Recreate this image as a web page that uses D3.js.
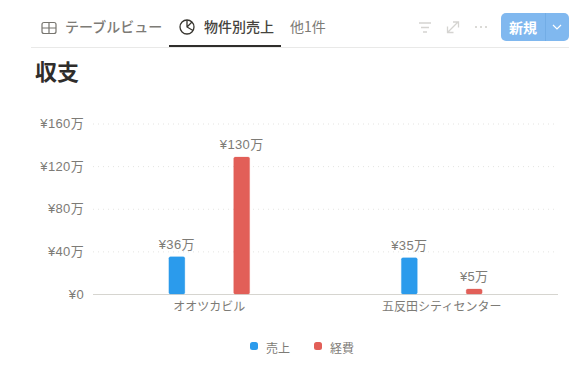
<!DOCTYPE html>
<html>
<head>
<meta charset="utf-8">
<script src="https://cdn.jsdelivr.net/npm/d3@7"></script>
<style>
	html, body { margin: 0; padding: 0; background: #fff; }
	svg { display: block; }
	text { font-family: "Liberation Sans", "Noto Sans CJK JP", sans-serif; }
	.cjk { font-family: "Noto Sans CJK JP", sans-serif; }
</style>
</head>
<body>
<div id="chart"></div>
<script>
const buildings = ['オオツカビル', '五反田シティセンター'];
const seriesNames = ['売上', '経費'];
const sales = [35, 34];
const costs = [128.5, 4.7];
const salesLabels = ['¥36万', '¥35万'];
const costLabels = ['¥130万', '¥5万'];
const yTicks = [0, 40, 80, 120, 160];
const yTickLabels = ['¥0', '¥40万', '¥80万', '¥120万', '¥160万'];
const seriesColors = ['#2b9bec', '#e25f58'];

const width = 587;
const height = 370;
const margin = { left: 93, right: 29, top: 123.5, bottom: 76 };

const svg = d3
	.select('#chart')
	.append('svg')
	.attr('width', width)
	.attr('height', height);

// Header: tabs and toolbar
const header = svg.append('g');

header.append('line')
	.attr('x1', 31).attr('x2', 569)
	.attr('y1', 47.5).attr('y2', 47.5)
	.attr('stroke', '#e9e9e8');

header.append('rect')
	.attr('x', 169).attr('y', 45)
	.attr('width', 112).attr('height', 2)
	.attr('fill', '#2f2d2b');

const tabs = [
	{ label: 'テーブルビュー', x: 65, color: '#7d7b76', weight: 500 },
	{ label: '物件別売上', x: 204, color: '#45433e', weight: 500 },
	{ label: '他1件', x: 290, color: '#7d7b76', weight: 400 },
];
header.selectAll('text.tab')
	.data(tabs)
	.enter()
	.append('text')
	.attr('class', 'tab cjk')
	.attr('x', (d) => d.x)
	.attr('y', 32)
	.attr('fill', (d) => d.color)
	.attr('font-weight', (d) => d.weight)
	.style('font-size', '14px')
	.text((d) => d.label);

// Table icon
const tableIcon = header.append('g')
	.attr('fill', 'none')
	.attr('stroke', '#77756f')
	.attr('stroke-width', 1.2);
tableIcon.append('rect')
	.attr('x', 42).attr('y', 22.5)
	.attr('width', 14).attr('height', 11)
	.attr('rx', 2);
tableIcon.append('path').attr('d', 'M42 28H56M49 22.5V33.5');

// Pie icon
const pieIcon = header.append('g')
	.attr('fill', 'none')
	.attr('stroke', '#37352f')
	.attr('stroke-width', 1.3);
pieIcon.append('circle').attr('cx', 187).attr('cy', 27).attr('r', 7);
pieIcon.append('path').attr('d', 'M187 20V27L193 30.5M187 27L192 22');

// Toolbar icons
const tools = header.append('g')
	.attr('fill', 'none')
	.attr('stroke', '#d5d4d1')
	.attr('stroke-width', 1.3);
tools.append('path').attr('d', 'M419 23H431M421 27.5H429M423 32H427');
tools.append('path').attr('d', 'M448 32L458 22M453 22H458.5V27.5M447.5 26.5V32.5H453.5');
header.selectAll('circle.dot')
	.data([476, 481, 486])
	.enter()
	.append('circle')
	.attr('class', 'dot')
	.attr('cx', (d) => d)
	.attr('cy', 27)
	.attr('r', 1)
	.attr('fill', '#cfcec9');

// New button
header.append('rect')
	.attr('x', 501).attr('y', 13)
	.attr('width', 68).attr('height', 28)
	.attr('rx', 5)
	.attr('fill', '#80b8ef');
header.append('line')
	.attr('x1', 545.5).attr('x2', 545.5)
	.attr('y1', 13).attr('y2', 41)
	.attr('stroke', '#72ade6');
header.append('text')
	.attr('class', 'cjk')
	.attr('x', 509).attr('y', 33)
	.attr('fill', '#fff')
	.attr('font-weight', 700)
	.style('font-size', '14px')
	.text('新規');
header.append('path')
	.attr('d', 'M553 25L557 29L561 25')
	.attr('fill', 'none')
	.attr('stroke', '#fff')
	.attr('stroke-width', 1.2);

// Title
svg.append('text')
	.attr('class', 'cjk')
	.attr('x', 35).attr('y', 80)
	.attr('fill', '#2f2d2b')
	.attr('font-weight', 700)
	.style('font-size', '22px')
	.text('収支');

// Scales
const x0 = d3
	.scaleBand()
	.domain(buildings)
	.range([margin.left, width - margin.right]);

const x1 = d3
	.scaleBand()
	.domain(seriesNames)
	.range([0, x0.bandwidth()])
	.paddingInner(0.754)
	.paddingOuter(1.17);

const y = d3
	.scaleLinear()
	.domain([0, 160])
	.range([height - margin.bottom, margin.top]);

// Y axis with dotted grid lines
const yAxis = svg
	.append('g')
	.attr('transform', `translate(${margin.left},0)`)
	.call(
		d3.axisLeft(y)
			.tickValues(yTicks)
			.tickSize(-(width - margin.left - margin.right))
			.tickPadding(9)
			.tickFormat((d, i) => yTickLabels[i])
	);
yAxis.select('.domain').remove();
yAxis.selectAll('.tick line')
	.attr('stroke', (d) => (d === 0 ? '#d6d5d0' : '#e4e4e1'))
	.attr('stroke-dasharray', (d) => (d === 0 ? null : '1 4'));
yAxis.selectAll('.tick text')
	.attr('fill', '#7d7b76')
	.attr('letter-spacing', 0.35)
	.style('font-family', '"Liberation Sans", "Noto Sans CJK JP", sans-serif')
	.style('font-size', '13px');

// X axis
const xAxis = svg
	.append('g')
	.attr('transform', `translate(0,${height - margin.bottom})`)
	.call(d3.axisBottom(x0).tickSize(0).tickPadding(8));
xAxis.select('.domain').remove();
xAxis.selectAll('.tick text')
	.attr('fill', '#7d7b76')
	.style('font-family', '"Noto Sans CJK JP", sans-serif')
	.style('font-size', '12px');

// Bars and value labels
const seriesValues = [sales, costs];
const seriesLabels = [salesLabels, costLabels];

seriesNames.forEach((name, s) => {
	const g = svg.append('g');

	g.selectAll('rect')
		.data(buildings)
		.enter()
		.append('rect')
		.attr('x', (d) => x0(d) + x1(name))
		.attr('y', (d, i) => y(seriesValues[s][i]))
		.attr('width', x1.bandwidth())
		.attr('height', (d, i) => y(0) - y(seriesValues[s][i]))
		.attr('rx', 1.5)
		.attr('fill', seriesColors[s])
		.attr('stroke', seriesColors[s])
		.attr('stroke-opacity', 0.25)
		.attr('stroke-width', 1);

	g.selectAll('text')
		.data(buildings)
		.enter()
		.append('text')
		.attr('x', (d) => x0(d) + x1(name) + x1.bandwidth() / 2)
		.attr('y', (d, i) => y(seriesValues[s][i]) - 8)
		.attr('text-anchor', 'middle')
		.attr('fill', '#7d7b76')
		.attr('letter-spacing', 0.35)
		.style('font-size', '13px')
		.text((d, i) => seriesLabels[s][i]);
});

// Legend
const legendX = d3.scalePoint().domain(seriesNames).range([250, 314]);
const legend = svg
	.selectAll('g.legend')
	.data(seriesNames)
	.enter()
	.append('g')
	.attr('class', 'legend')
	.attr('transform', (d) => `translate(${legendX(d)},342)`);
legend.append('rect')
	.attr('width', 8).attr('height', 8)
	.attr('rx', 2.5)
	.attr('fill', (d, i) => seriesColors[i]);
legend.append('text')
	.attr('class', 'cjk')
	.attr('x', 16).attr('y', 11)
	.attr('fill', '#7d7b76')
	.style('font-size', '12px')
	.text((d) => d);
</script>
</body>
</html>
